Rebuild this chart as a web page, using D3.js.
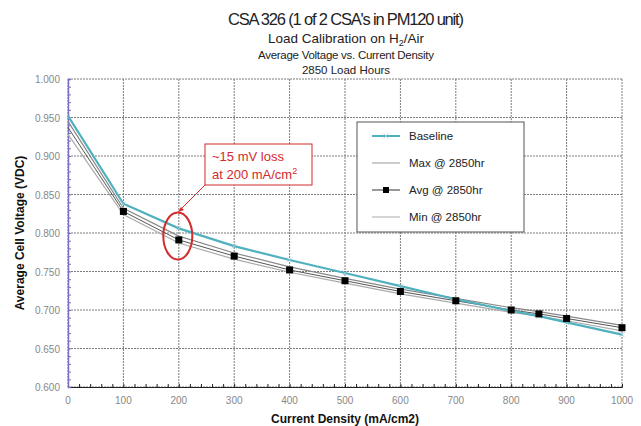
<!DOCTYPE html>
<html><head><meta charset="utf-8">
<script src="https://cdn.jsdelivr.net/npm/d3@7"></script>
<style>body{margin:0;background:#fff}svg{display:block}text{font-family:"Liberation Sans",Arial,sans-serif}</style>
</head><body><svg id="c" width="641" height="426"></svg>
<script>
const currentDensity = [0,100,200,300,400,500,600,700,800,850,900,1000];
const baseline = [0.952,0.838,0.806,0.783,0.765,0.748,0.731,0.714,0.699,0.692,0.684,0.668];
const maxV    = [0.945,0.832,0.796,0.774,0.756,0.741,0.727,0.715,0.703,0.698,0.692,0.680];
const avgV    = [0.937,0.828,0.791,0.770,0.752,0.738,0.724,0.712,0.700,0.695,0.689,0.677];
const minV    = [0.928,0.824,0.787,0.766,0.749,0.735,0.721,0.709,0.697,0.692,0.686,0.673];
const avgMarkerX = [100,200,300,400,500,600,700,800,850,900,1000];
const yTicks = [0.600,0.650,0.700,0.750,0.800,0.850,0.900,0.950,1.000];
const xTicks = [0,100,200,300,400,500,600,700,800,900,1000];
const titles = ["CSA 326 (1 of 2 CSA's in PM120 unit)","Load Calibration on H","Average Voltage vs. Current Density","2850 Load Hours"];
const legendLabels = ["Baseline","Max @ 2850hr","Avg @ 2850hr","Min @ 2850hr"];

const svg = d3.select("#c");
const x = d3.scaleLinear().domain([0,1000]).range([68,622]);
const y = d3.scaleLinear().domain([0.6,1.0]).range([387,79]);

// titles
svg.append("text").attr("x",346).attr("y",25).attr("text-anchor","middle").attr("font-size",16.5).attr("fill","#222").attr("textLength",236).text(titles[0]);
const t2 = svg.append("text").attr("x",346).attr("y",43).attr("text-anchor","middle").attr("font-size",13.5).attr("fill","#222");
t2.append("tspan").text(titles[1]);
t2.append("tspan").attr("font-size",9).attr("dy",3).text("2");
t2.append("tspan").attr("dy",-3).text("/Air");
svg.append("text").attr("x",346).attr("y",59).attr("text-anchor","middle").attr("font-size",11.5).attr("fill","#222").attr("textLength",176).text(titles[2]);
svg.append("text").attr("x",346).attr("y",74).attr("text-anchor","middle").attr("font-size",11.5).attr("fill","#222").text(titles[3]);

// grid
const g = svg.append("g");
g.selectAll(".hg").data(yTicks).join("line").attr("x1",x(0)).attr("x2",x(1000)).attr("y1",d=>y(d)).attr("y2",d=>y(d))
 .attr("stroke","#7c7c7c").attr("stroke-width",1).attr("stroke-dasharray","2,1");
g.selectAll(".vg").data(xTicks).join("line").attr("y1",y(0.6)).attr("y2",y(1.0)).attr("x1",d=>x(d)).attr("x2",d=>x(d))
 .attr("stroke","#7c7c7c").attr("stroke-width",1).attr("stroke-dasharray","2,1");

// axes
const xAxis = svg.append("g").attr("transform",`translate(0,${y(0.6)})`)
 .call(d3.axisBottom(x).tickValues(d3.range(0,1001,20)).tickSize(-3).tickFormat(""));
xAxis.select(".domain").attr("stroke","#222");
xAxis.selectAll(".tick line").attr("stroke","#222");
svg.append("g").selectAll("text").data(xTicks).join("text").attr("x",d=>x(d)).attr("y",404).attr("text-anchor","middle")
 .attr("font-size",10).attr("fill","#888").text(d=>d);

const yAxis = svg.append("g").attr("transform",`translate(${x(0)},0)`)
 .call(d3.axisLeft(y).tickValues(d3.range(0.6,1.0001,0.01)).tickSize(-3).tickFormat(""));
yAxis.select(".domain").attr("stroke","#7a6fc0").attr("stroke-width",1.5);
yAxis.selectAll(".tick line").attr("stroke","#7a6fc0");
svg.append("g").selectAll("text").data(yTicks).join("text").attr("x",60).attr("y",d=>y(d)+4).attr("text-anchor","end")
 .attr("font-size",10).attr("fill","#888").text(d=>d.toFixed(3));

// axis titles
svg.append("text").attr("transform","translate(24,233) rotate(-90)").attr("text-anchor","middle").attr("font-size",12).attr("font-weight","bold").attr("fill","#111").text("Average Cell Voltage (VDC)");
svg.append("text").attr("x",345).attr("y",423).attr("text-anchor","middle").attr("font-size",12).attr("font-weight","bold").attr("fill","#111").text("Current Density (mA/cm2)");

// lines
const line = arr => d3.line().x((d,i)=>x(currentDensity[i])).y(d=>y(d))(arr);
svg.append("path").attr("d",line(minV)).attr("fill","none").attr("stroke","#aaa").attr("stroke-width",1.2);
svg.append("path").attr("d",line(maxV)).attr("fill","none").attr("stroke","#888").attr("stroke-width",1.2);
svg.append("path").attr("d",line(avgV)).attr("fill","none").attr("stroke","#555").attr("stroke-width",1);
svg.append("path").attr("d",line(baseline)).attr("fill","none").attr("stroke","#4fb0be").attr("stroke-width",2.2);
svg.selectAll(".bm").data(currentDensity.slice(1)).join("path")
 .attr("d",(d,i)=>{const cx=x(d),cy=y(baseline[i+1]);return `M${cx-2.5},${cy-2.5}L${cx+2.5},${cy+2.5}M${cx-2.5},${cy+2.5}L${cx+2.5},${cy-2.5}`;})
 .attr("stroke","#8fd0da").attr("stroke-width",0.8);
svg.selectAll(".am").data(avgMarkerX).join("rect")
 .attr("x",d=>x(d)-3.5).attr("y",d=>y(avgV[currentDensity.indexOf(d)])-3.5).attr("width",7).attr("height",7).attr("fill","#000");

// legend
svg.append("rect").attr("x",357).attr("y",122).attr("width",167).attr("height",110).attr("fill","#fff").attr("stroke","#555").attr("stroke-width",1);
const ly = [136,163,190,217];
const lcol = ["#4fb0be","#999","#333","#aaa"];
const lw = [2,1,1,1];
legendLabels.forEach((lab,i)=>{
  svg.append("line").attr("x1",372).attr("x2",400).attr("y1",ly[i]).attr("y2",ly[i]).attr("stroke",lcol[i]).attr("stroke-width",lw[i]);
  svg.append("text").attr("x",409).attr("y",ly[i]+4).attr("font-size",11.5).attr("fill","#222").text(lab);
});
svg.append("path").attr("d","M383.5,133.5L388.5,138.5M383.5,138.5L388.5,133.5").attr("stroke","#8fd0da").attr("stroke-width",0.8);
svg.append("rect").attr("x",383).attr("y",187).attr("width",6).attr("height",6).attr("fill","#000");

// annotation
const red = "#d22b2b";
svg.append("rect").attr("x",205).attr("y",144).attr("width",107).attr("height",41).attr("fill","#fff").attr("stroke",red).attr("stroke-width",1);
svg.append("text").attr("x",212).attr("y",161).attr("font-size",13).attr("fill",red).text("~15 mV loss");
const at = svg.append("text").attr("x",212).attr("y",179).attr("font-size",13).attr("fill",red);
at.append("tspan").text("at 200 mA/cm");
at.append("tspan").attr("font-size",9).attr("dy",-5).text("2");
svg.append("line").attr("x1",205).attr("y1",185).attr("x2",180).attr("y2",210).attr("stroke",red).attr("stroke-width",1);
svg.append("path").attr("d","M178,212 L184,210 L181,207 Z").attr("fill",red);
svg.append("ellipse").attr("cx",x(200)-1).attr("cy",236).attr("rx",14.5).attr("ry",23.5).attr("fill","none").attr("stroke",red).attr("stroke-width",2);
</script></body></html>
